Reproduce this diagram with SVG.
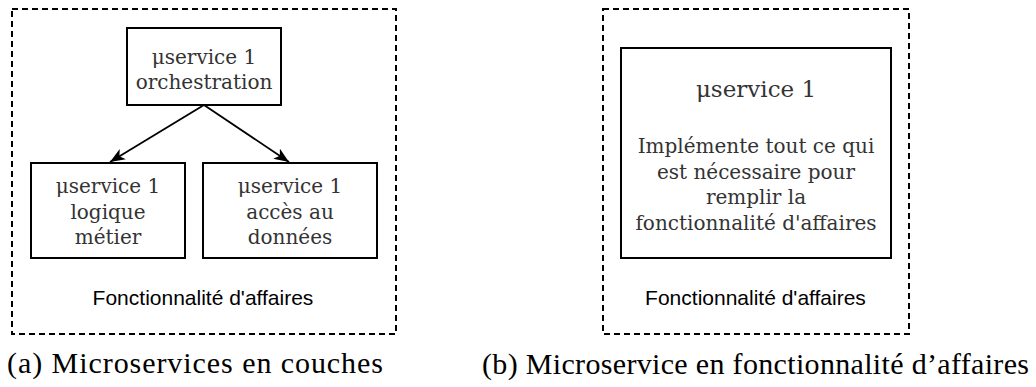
<svg xmlns="http://www.w3.org/2000/svg" width="1036" height="387" viewBox="0 0 1036 387">
  <style>
    .frame { fill: none; stroke: #000; stroke-width: 2; stroke-dasharray: 6 4; }
    .box { fill: #fff; stroke: #000; stroke-width: 2; }
    .node { font-family: "DejaVu Serif", "Liberation Serif", serif; font-size: 20px; fill: #333; text-anchor: middle; }
    .big { font-size: 23px; }
    .area { font-family: "Liberation Sans", Arial, sans-serif; font-size: 21px; fill: #000; text-anchor: middle; }
    .caption { font-family: "Liberation Serif", "Times New Roman", serif; font-size: 30px; fill: #000; }
    .link { fill: none; stroke: #000; stroke-width: 1.8; }
  </style>
  <defs>
    <marker id="arrow" markerUnits="userSpaceOnUse" markerWidth="16" markerHeight="13" refX="15" refY="6" orient="auto">
      <path d="M0,0 L15,6 L0,12 L4,6 Z" fill="#000"/>
    </marker>
  </defs>

  <rect width="1036" height="387" fill="#fff"/>

  <!-- (a) layered microservices -->
  <g id="layered-area">
    <rect class="frame" x="12" y="9" width="384" height="325"/>
    <text class="area" x="203" y="305">Fonctionnalité d'affaires</text>
  </g>

  <g id="orchestration">
    <rect class="box" x="127" y="28" width="154" height="77"/>
    <text class="node" x="204" y="64">μservice 1</text>
    <text class="node" x="204" y="89">orchestration</text>
  </g>

  <g id="logique-metier">
    <rect class="box" x="31" y="163" width="154" height="95"/>
    <text class="node" x="108" y="193">μservice 1</text>
    <text class="node" x="108" y="218.5">logique</text>
    <text class="node" x="108" y="244">métier</text>
  </g>

  <g id="acces-donnees">
    <rect class="box" x="203" y="163" width="174" height="95"/>
    <text class="node" x="290" y="193">μservice 1</text>
    <text class="node" x="290" y="218.5">accès au</text>
    <text class="node" x="290" y="244">données</text>
  </g>

  <g id="connectors">
    <line class="link" x1="204" y1="105" x2="110" y2="162" marker-end="url(#arrow)"/>
    <line class="link" x1="204" y1="105" x2="289" y2="162" marker-end="url(#arrow)"/>
  </g>

  <text class="caption" x="7" y="373" textLength="376" lengthAdjust="spacing">(a) Microservices en couches</text>

  <!-- (b) business-capability microservice -->
  <g id="capability-area">
    <rect class="frame" x="603" y="9" width="306" height="325"/>
    <text class="area" x="755.5" y="304.5">Fonctionnalité d'affaires</text>
  </g>

  <g id="capability-service">
    <rect class="box" x="621" y="48" width="270" height="210"/>
    <text class="node big" x="756" y="97">μservice 1</text>
    <text class="node" x="756" y="153">Implémente tout ce qui</text>
    <text class="node" x="756" y="178.5">est nécessaire pour</text>
    <text class="node" x="756" y="204">remplir la</text>
    <text class="node" x="756" y="229.5">fonctionnalité d'affaires</text>
  </g>

  <text class="caption" x="482" y="374" textLength="547" lengthAdjust="spacing">(b) Microservice en fonctionnalité d’affaires</text>
</svg>
